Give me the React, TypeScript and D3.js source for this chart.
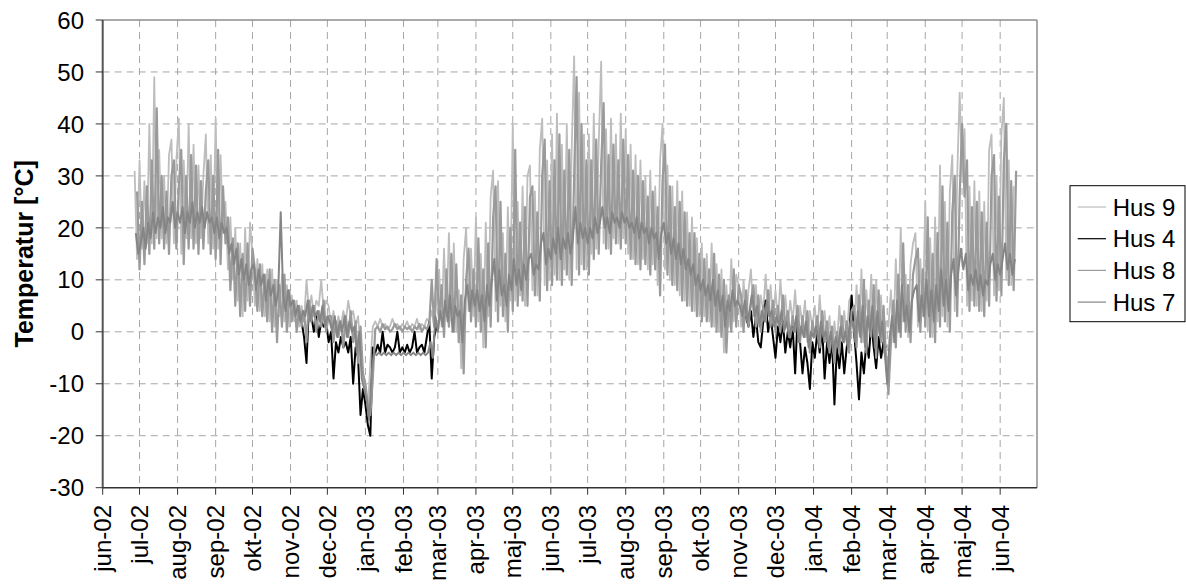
import React from 'react';
import * as d3 from 'd3';

// ---------- data ----------
const MONTH_NAMES = ['jan', 'feb', 'mar', 'apr', 'maj', 'jun', 'jul', 'aug', 'sep', 'okt', 'nov', 'dec'];
const Y_TICKS = [-30, -20, -10, 0, 10, 20, 30, 40, 50, 60];
const SERIES_NAMES = ['Hus 9', 'Hus 4', 'Hus 8', 'Hus 7'];
const AXIS_START = '2002-06-01';
const AXIS_END = '2004-07-01';
const LAST_TICK = '2004-06-01';
const STEP_DAYS = 2;

const HUS9_START = '2002-06-27';
const hus9 = [
  31, 14,
  33, 16, 29, 17, 40, 17, 49, 18, 35, 18, 30, 17, 34, 37, 17, 33,
  41, 15, 33, 18, 40, 18, 36, 17, 32, 18, 30, 38, 17, 34, 16,
  41, 16, 34, 19, 25, 12, 22, 10, 20, 6, 17, 3, 20, 6, 21,
  15, 5, 14, 4, 13, 3, 12, 2, 12, 1, 10, 3, 11, 2, 9, 1,
  7, 2, 6, 1, 5, 2, 10, 4, 7, 3, 6, 5, 10, 4, 6,
  5, 1, 4, 0, 3, 1, 4, 2, 6, 3, 4, 1, 3, -3, -8,
  -12, -15, -6, 1, 2, 1, 2.5, 1, 1.5, 0.5, 1, 2.5, 1, 1.5, 0.5, 1.5,
  1, 2, 0.5, 1.5, 1, 2.5, 0.5, 1.5, 1, 2.5, 2, 4, 1, 6,
  12, 1, 16, 3, 19, 2, 17, 0, 8, -7, 14, 20, 4, 16, 3,
  22, 2, 15, -3, 21, 3, 26, 31, 4, 29, 5, 19, 2, 24, 6,
  40, 6, 25, 7, 28, 5, 30, 32, 8, 27, 7, 35, 41, 9, 33, 10,
  38, 11, 42, 10, 36, 12, 40, 10, 35, 53, 12, 46, 13, 38, 12,
  38, 15, 42, 16, 36, 52, 17, 39, 16, 41, 18, 38, 17, 42, 18,
  39, 15, 36, 14, 34, 13, 33, 14, 30, 12, 31, 13, 28, 9, 33, 40,
  12, 32, 10, 28, 9, 29, 7, 27, 6, 23, 5, 22, 4, 18, 3,
  17, 3, 15, 2, 17, 1, 13, 0, 12, -4, 9, 1, 14, 2, 11,
  9, 1, 10, 2, 8, 12, 3, 9, 2, 7, 4, 11, 3, 9, 2,
  8, 2, 10, 3, 7, 1, 6, 2, 8, 0, 5, 1, 6, -2, 4, 1,
  5, -1, 7, 0, 4, -2, 3, -5, 2, -3, 5, -1, 4, -2, 6,
  7, -1, 9, 0, 12, -2, 8, 1, 11, -3, 10, 0, 7, -4, 2,
  1, 8, -2, 14, 0, 20, 2, 11, -1, 13, 17, 19, 1, 14, 3,
  25, 0, 18, -1, 22, 2, 32, 3, 25, 1, 27, 34, 4, 30, 46,
  30, 39, 5, 28, 6, 29, 5, 27, 4, 25, 6, 35, 38, 7, 30, 8,
  38, 45, 10, 33, 9, 28,
];

const HUS8_START = '2002-06-29';
const hus8 = [
  27, 12,
  25, 13, 28, 15, 33, 16, 43, 17, 30, 16, 27, 15, 30, 33, 16, 28,
  35, 13, 30, 16, 34, 16, 32, 15, 29, 16, 27, 33, 15, 30, 14,
  35, 13, 28, 17, 22, 8, 18, 5, 17, 3, 15, 4, 17, 5, 16,
  12, 4, 13, 3, 11, 2, 12, 0, 10, -2, 9, 1, 11, 0, 8, 2,
  6, 0, 5, 1, 4, -2, 6, 2, 5, 0, 4, 1, 6, 0, 3,
  3, -2, 2, -1, 2, -3, 3, -1, 4, -2, 2, -6, 1, -8, -10,
  -14, -16, -9, 0.5, 1, 0, 1.5, 0.5, 1, 0, 0.5, 1.5, 0.5, 1, 0, 1,
  0.5, 1, 0, 1, 0.5, 1.5, 0, 1, 0.5, 1.5, 10, 1, 14, 2,
  9, -1, 12, 1, 15, 0, 13, -2, 7, -8, 10, 16, 2, 12, 1,
  18, 0, 12, -3, 17, 1, 22, 28, 2, 25, 3, 15, 0, 20, 4,
  35, 5, 21, 6, 24, 5, 26, 28, 7, 23, 6, 30, 37, 8, 29, 9,
  33, 10, 38, 9, 31, 11, 35, 9, 30, 49, 11, 40, 12, 33, 11,
  33, 14, 37, 15, 32, 44, 16, 34, 15, 36, 17, 33, 16, 37, 17,
  34, 14, 31, 13, 30, 12, 29, 13, 26, 11, 27, 12, 24, 7, 29, 36,
  11, 28, 9, 24, 8, 25, 6, 23, 5, 19, 4, 19, 3, 15, 2,
  14, 2, 12, 1, 15, 0, 11, -1, 10, -4, 7, 0, 12, 1, 9,
  7, 0, 8, 1, 6, 9, 1, 7, 0, 5, 2, 8, 1, 6, 0,
  5, 0, 7, 1, 4, -1, 3, 0, 5, -2, 3, -1, 4, -4, 2, -1,
  3, -3, 4, -2, 2, -4, 1, -6, 0, -4, 3, -2, 2, -4, 4,
  5, -3, 7, -2, 10, -4, 6, -1, 9, -5, 8, -2, 5, -5, -12,
  -2, 6, -3, 11, -1, 17, 0, 9, -2, 11, 14, 16, 0, 12, 1,
  22, -1, 15, -2, 19, 1, 28, 2, 21, 0, 23, 30, 3, 26, 40,
  26, 33, 4, 24, 5, 25, 4, 23, 3, 21, 5, 30, 34, 6, 26, 7,
  33, 40, 9, 29, 8, 31,
];

const HUS7_START = '2002-06-28';
const hus7 = [
  19, 15,
  17, 20, 16, 21, 18, 23, 19, 22, 20, 24, 19, 22, 21, 25, 20, 23,
  21, 24, 19, 23, 21, 25, 20, 23, 21, 24, 20, 23, 21, 22, 19,
  22, 18, 21, 19, 20, 15, 17, 13, 16, 11, 14, 10, 13, 9, 12,
  13, 8, 12, 9, 11, 6, 10, 7, 9, 5, 8, 23, 7, 4, 8, 5,
  6, 3, 5, 2, 4, 3, 6, 2, 5, 3, 4, 2, 5, 1, 3,
  2, 0, 3, -1, 2, 0, 3, -1, 2, 0, 1, -4, 0, -9, -11,
  -13, -17, -8, -4, -4.5, -4, -4.5, -4, -4.5, -4, -4.5, -4, -4.5, -4, -4.5, -4,
  -4.5, -4, -4.5, -4, -4.5, -4, -4.5, -4, -4.5, -4, -2, -5, 3, 0,
  4, 1, 6, 2, 7, 0, 5, 3, 4, -2, 6, 9, 4, 8, 5,
  8, 4, 7, 2, 9, 5, 10, 14, 6, 12, 7, 9, 5, 11, 8,
  14, 9, 12, 8, 13, 10, 14, 15, 11, 13, 12, 17, 19, 13, 16, 14,
  18, 15, 20, 14, 18, 16, 19, 15, 18, 24, 17, 21, 18, 20, 17,
  20, 18, 22, 19, 21, 24, 20, 22, 19, 23, 21, 22, 20, 23, 21,
  22, 20, 21, 19, 22, 18, 21, 19, 20, 17, 20, 18, 19, 14, 19, 21,
  17, 19, 15, 18, 14, 17, 13, 16, 12, 14, 11, 13, 9, 11, 8,
  10, 7, 9, 6, 10, 5, 8, 4, 7, 1, 6, 4, 8, 5, 6,
  5, 3, 6, 2, 4, 7, 3, 5, 1, 4, 2, 6, 3, 4, 1,
  3, 1, 4, 0, 2, -1, 1, 0, 3, -2, 1, -1, 2, -3, 0, -1,
  1, -2, 2, -1, 0, -3, 0, -4, -1, -3, 1, -2, 0, -3, 2,
  2, -2, 4, -1, 5, -3, 3, 0, 5, -3, 4, -1, 2, -4, -10,
  -1, 3, -2, 6, 0, 9, 2, 5, 0, 6, 8, 9, 2, 7, 3,
  10, 3, 8, 2, 9, 4, 12, 5, 10, 4, 11, 14, 7, 12, 16,
  12, 15, 8, 11, 9, 12, 8, 11, 7, 10, 9, 13, 15, 10, 13, 11,
  14, 17, 12, 15, 11, 14,
];

// Hus 4 is only visible (below the others) during the two winters
const HUS4_WINTER1_START = '2002-11-08';
const hus4Winter1 = [
  4, 2, -1, -6, 5, 3, 0, 3, -1, 2, 1, 2,
  -2, 0, -9, -2, -4, -1, -3, -2, -4, -1, -10, -3, -5, -16, -11,
  -14, -18, -20, -3, -4, -2.5, -4, 0, -4, -2.5, -3, -4, -3, 0, -4, -3,
  -4, -2.5, -4, -3, 0, -4, -3, -2.5, -4, -1, 2, -9, -1, 1,
  1,
];
const HUS4_WINTER2_START = '2003-11-07';
const hus4Winter2 = [
  3, 1, 4, -1, 3, -2, -3, 2, 6, 0, 3, -1,
  -5, 1, -2, 2, -4, 0, -3, 1, -8, 3, -2, -8, -3, -6, -11, -2,
  -5, 0, -4, 1, -9, -2, -6, -1, -14, -3, -7, -2, -8, -3, -1,
  7, 0, -6, -13, -4, -8, -2, -5, 2, -3, -7, -1, -5, -2, -3,
];

// ---------- styling ----------
const W = 1186;
const H = 587;
const PLOT = { left: 102.7, right: 1037, top: 20, bottom: 487.7 };
const FONT = '"Liberation Sans", Arial, Helvetica, sans-serif';
const COLORS: Record<string, string> = {
  'Hus 9': '#bdbdbd',
  'Hus 4': '#000000',
  'Hus 8': '#9a9a9a',
  'Hus 7': '#858585',
};
const WIDTHS: Record<string, number> = { 'Hus 9': 1.8, 'Hus 4': 2.0, 'Hus 8': 2.2, 'Hus 7': 2.0 };

const parse = d3.timeParse('%Y-%m-%d');

type Pt = { t: Date; v: number };
function toPoints(start: string, values: number[]): Pt[] {
  const s = parse(start) as Date;
  return values.map((v, i) => ({ t: d3.timeDay.offset(s, i * STEP_DAYS), v }));
}

export default function App() {
  const x = d3
    .scaleTime()
    .domain([parse(AXIS_START) as Date, parse(AXIS_END) as Date])
    .range([PLOT.left, PLOT.right]);
  const y = d3.scaleLinear().domain([-30, 60]).range([PLOT.bottom, PLOT.top]);

  const months = d3.timeMonth.range(parse(AXIS_START) as Date, d3.timeDay.offset(parse(LAST_TICK) as Date, 1));
  const fmtYear = d3.timeFormat('%y');

  const line = d3
    .line<Pt>()
    .x((d) => x(d.t))
    .y((d) => y(d.v));

  const seriesPaths: { name: string; pts: Pt[] }[] = [
    { name: 'Hus 9', pts: toPoints(HUS9_START, hus9) },
    { name: 'Hus 4', pts: toPoints(HUS4_WINTER1_START, hus4Winter1) },
    { name: 'Hus 4', pts: toPoints(HUS4_WINTER2_START, hus4Winter2) },
    { name: 'Hus 8', pts: toPoints(HUS8_START, hus8) },
    { name: 'Hus 7', pts: toPoints(HUS7_START, hus7) },
  ];

  const legend = { x: 1070, y: 185.7, w: 115, h: 136, firstY: 207, step: 31.7 };

  return (
    <svg
      width={W}
      height={H}
      style={{ position: 'absolute', left: 0, top: 0, background: '#fff' }}
      fontFamily={FONT}
    >
      <rect x={0} y={0} width={W} height={H} fill="#fff" />
      {/* grid */}
      {Y_TICKS.filter((t) => t > -30 && t < 60).map((t) => (
        <line
          key={'gy' + t}
          x1={PLOT.left}
          x2={PLOT.right}
          y1={y(t)}
          y2={y(t)}
          stroke="#a6a6a6"
          strokeWidth={1}
          strokeDasharray="7,5"
        />
      ))}
      {months.slice(1).map((m) => (
        <line
          key={'gx' + m.getTime()}
          x1={x(m)}
          x2={x(m)}
          y1={PLOT.top}
          y2={PLOT.bottom}
          stroke="#a6a6a6"
          strokeWidth={1}
          strokeDasharray="7,5"
        />
      ))}
      {/* frame */}
      <line x1={PLOT.left} x2={PLOT.right} y1={PLOT.top} y2={PLOT.top} stroke="#8c8c8c" strokeWidth={1.5} />
      <line x1={PLOT.right} x2={PLOT.right} y1={PLOT.top} y2={PLOT.bottom} stroke="#8c8c8c" strokeWidth={1.5} />

      {/* series */}
      {seriesPaths.map((s, i) => (
        <path
          key={'s' + i}
          d={line(s.pts) || ''}
          fill="none"
          stroke={COLORS[s.name]}
          strokeWidth={WIDTHS[s.name]}
          strokeLinejoin="round"
        />
      ))}

      {/* axes */}
      <line x1={PLOT.left} x2={PLOT.left} y1={PLOT.top} y2={PLOT.bottom + 0.5} stroke="#555" strokeWidth={2} />
      <line x1={PLOT.left} x2={PLOT.right} y1={PLOT.bottom} y2={PLOT.bottom} stroke="#333" strokeWidth={1.5} />
      {Y_TICKS.map((t) => (
        <g key={'yt' + t}>
          <line x1={PLOT.left - 7} x2={PLOT.left} y1={y(t)} y2={y(t)} stroke="#333" strokeWidth={1} />
          <text x={84} y={y(t)} dy="0.36em" textAnchor="end" fontSize={24} fill="#000">
            {t}
          </text>
        </g>
      ))}
      {months.map((m) => (
        <g key={'xt' + m.getTime()}>
          <line x1={x(m)} x2={x(m)} y1={PLOT.bottom} y2={PLOT.bottom + 7} stroke="#333" strokeWidth={1} />
          <text
            transform={`translate(${x(m) + 8.5},${505}) rotate(-90)`}
            textAnchor="end"
            fontSize={24}
            fill="#000"
          >
            {MONTH_NAMES[m.getMonth()] + '-' + fmtYear(m)}
          </text>
        </g>
      ))}
      <text
        transform={`translate(33,${(PLOT.top + PLOT.bottom) / 2}) rotate(-90)`}
        textAnchor="middle"
        fontSize={25}
        fontWeight="bold"
        fill="#000"
      >
        Temperatur [°C]
      </text>

      {/* legend */}
      <rect x={legend.x} y={legend.y} width={legend.w} height={legend.h} fill="#fff" stroke="#000" strokeWidth={1} />
      {SERIES_NAMES.map((n, i) => {
        const cy = legend.firstY + i * legend.step;
        return (
          <g key={'lg' + n}>
            <line x1={1077.7} x2={1106} y1={cy} y2={cy} stroke={COLORS[n]} strokeWidth={1.2} />
            <text x={1112.7} y={cy} dy="0.36em" fontSize={24} fill="#000">
              {n}
            </text>
          </g>
        );
      })}
    </svg>
  );
}
